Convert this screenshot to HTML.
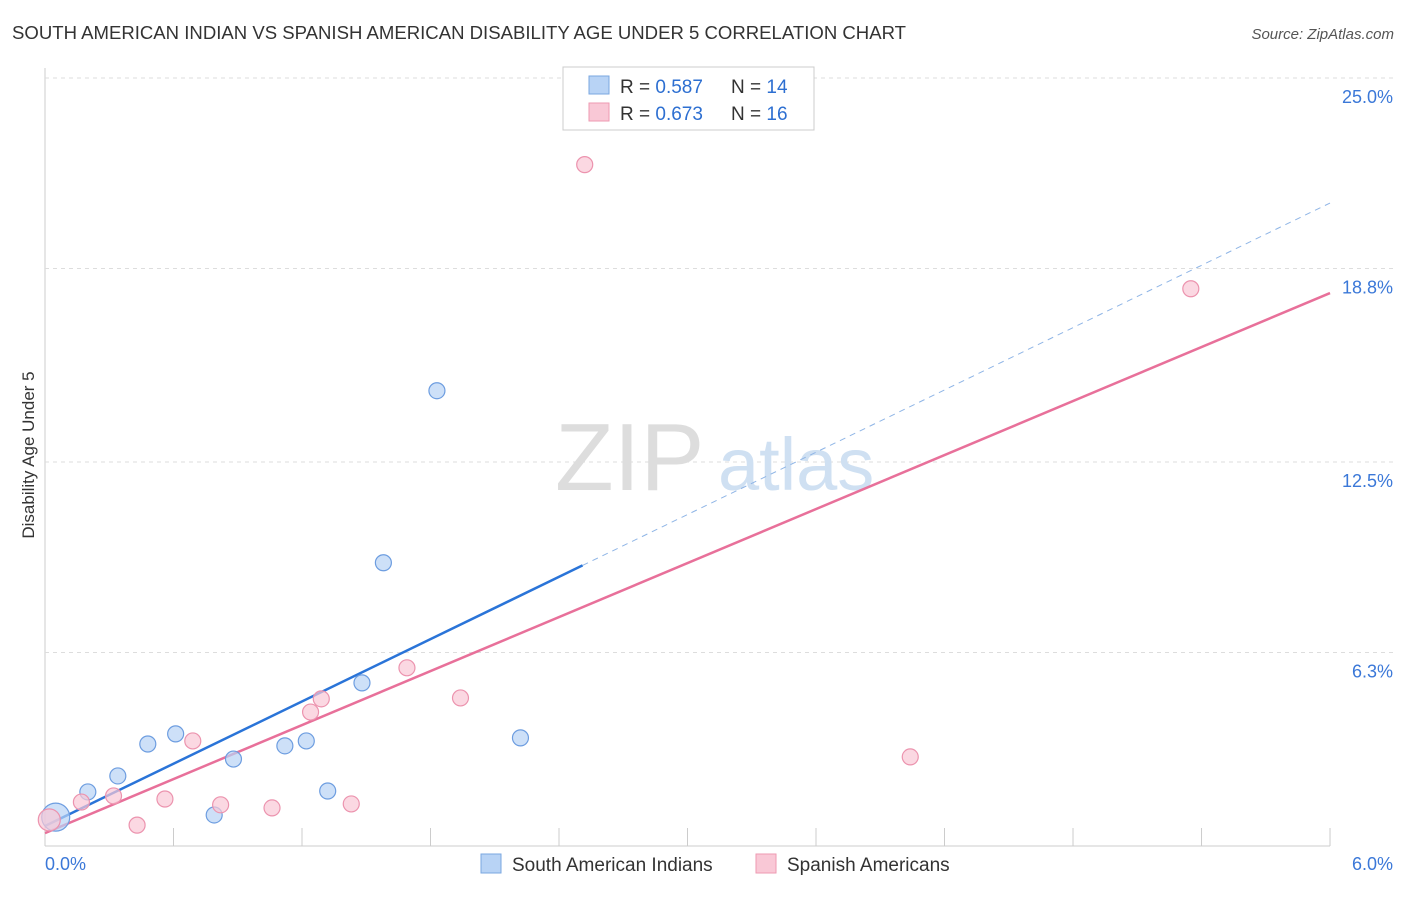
<!DOCTYPE html>
<html><head><meta charset="utf-8"><style>
body{margin:0;background:#fff;font-family:"Liberation Sans",sans-serif;}
svg text{font-family:"Liberation Sans",sans-serif;}
</style></head><body>
<svg width="1406" height="892" viewBox="0 0 1406 892">
<text x="12" y="39" font-size="18" fill="#333" textLength="894" lengthAdjust="spacingAndGlyphs">SOUTH AMERICAN INDIAN VS SPANISH AMERICAN DISABILITY AGE UNDER 5 CORRELATION CHART</text>
<text x="1394" y="39" font-size="15" fill="#555" font-style="italic" text-anchor="end">Source: ZipAtlas.com</text>
<text x="34" y="455" font-size="17" fill="#333" text-anchor="middle" transform="rotate(-90 34 455)">Disability Age Under 5</text>
<g id="grid"></g>
<g><text x="555" y="490" font-size="96" fill="#ddd" font-family="Liberation Serif">ZIP</text><text x="718" y="490" font-size="74" fill="#cfe0f2">atlas</text></g>
<g id="lines"></g>
<g id="pts"></g>
<g>
<rect x="563" y="67" width="251" height="63" fill="#fff" stroke="#ccc"/>
<rect x="589" y="76" width="20" height="18" fill="#b8d3f5" stroke="#7aa7e0"/>
<rect x="589" y="103" width="20" height="18" fill="#f9c8d6" stroke="#ee9ab2"/>
<text x="620" y="93" font-size="19" fill="#333">R = <tspan fill="#2d6fd1">0.587</tspan></text>
<text x="731" y="93" font-size="19" fill="#333">N = <tspan fill="#2d6fd1">14</tspan></text>
<text x="620" y="120" font-size="19" fill="#333">R = <tspan fill="#2d6fd1">0.673</tspan></text>
<text x="731" y="120" font-size="19" fill="#333">N = <tspan fill="#2d6fd1">16</tspan></text>
</g>
<g>
<rect x="481" y="854" width="20" height="19" fill="#b8d3f5" stroke="#7aa7e0"/>
<text x="512" y="871" font-size="19" fill="#333">South American Indians</text>
<rect x="756" y="854" width="20" height="19" fill="#f9c8d6" stroke="#ee9ab2"/>
<text x="787" y="871" font-size="19" fill="#333">Spanish Americans</text>
</g>
</svg>
<script>
const yTicks=[25.0,18.8,12.5,6.3];
const yTickLabels=["25.0%","18.8%","12.5%","6.3%"];
const xTickLabels=["0.0%","6.0%"];
const blueX=[0.05,0.20,0.34,0.48,0.61,0.79,0.88,1.12,1.22,1.32,1.48,1.58,1.83,2.22];
const blueY=[0.94,1.76,2.28,3.32,3.65,1.01,2.83,3.26,3.42,1.79,5.31,9.22,14.82,3.52];
const pinkX=[0.02,0.17,0.32,0.43,0.56,0.69,0.82,1.06,1.24,1.29,1.43,1.69,1.94,2.52,4.04,5.35];
const pinkY=[0.85,1.43,1.63,0.68,1.53,3.42,1.34,1.24,4.36,4.79,1.37,5.80,4.82,22.18,2.90,18.14];
const blueFit=[0.65,3.38]; // intercept, slope
const pinkFit=[0.42,2.93];
const X=v=>45+v*214.17, Y=v=>846-v*30.72;
const NS="http://www.w3.org/2000/svg";
function mk(t,a,p){const e=document.createElementNS(NS,t);for(const k in a)e.setAttribute(k,a[k]);p.appendChild(e);return e;}
const g=document.getElementById('grid');
mk('line',{x1:45,y1:68,x2:45,y2:846,stroke:'#ccc'},g);
mk('line',{x1:45,y1:846,x2:1330,y2:846,stroke:'#ccc'},g);
yTicks.forEach((t,i)=>{
 const l=mk('line',{x1:45,y1:Y(t),x2:1394,y2:Y(t),stroke:'#ddd','stroke-dasharray':'4,4'},g);
 
 
 const tx=mk('text',{x:1393,y:Y(t)+25,'font-size':18,fill:'#3b78d8','text-anchor':'end'},g);
 tx.textContent=yTickLabels[i];
 
 
});
for(let i=0;i<=10;i++){
 const l=mk('line',{x1:X(i*0.6),y1:828,x2:X(i*0.6),y2:846,stroke:'#ccc'},g);
 
 
}
[[0,45,'start'],[6,1393,'end']].forEach((d,i)=>{
 const tx=mk('text',{x:d[1],y:870,'font-size':18,fill:'#3b78d8','text-anchor':d[2]},g);
 tx.textContent=xTickLabels[i];
 
 
});
const L=document.getElementById('lines');
let e=mk('line',{x1:X(0),y1:Y(blueFit[0]),x2:X(2.51),y2:Y(blueFit[0]+blueFit[1]*2.51),stroke:'#2a74d8','stroke-width':2.5},L);


e=mk('line',{x1:X(2.51),y1:Y(blueFit[0]+blueFit[1]*2.51),x2:X(6),y2:Y(blueFit[0]+blueFit[1]*6),stroke:'#8fb5e6','stroke-width':1,'stroke-dasharray':'6,5'},L);


e=mk('line',{x1:X(0),y1:Y(pinkFit[0]),x2:X(6),y2:Y(pinkFit[0]+pinkFit[1]*6),stroke:'#e8709a','stroke-width':2.5},L);


const P=document.getElementById('pts');
blueX.forEach((x,i)=>{
 const c=mk('circle',{cx:X(x),cy:Y(blueY[i]),r:i==0?14:8,fill:'rgba(184,211,245,0.7)',stroke:'#6d9de0','stroke-width':1.2},P);
 
 
});
pinkX.forEach((x,i)=>{
 const c=mk('circle',{cx:X(x),cy:Y(pinkY[i]),r:i==0?11:8,fill:'rgba(249,200,214,0.7)',stroke:'#ec93ae','stroke-width':1.2},P);
 
 
});
</script>
</body></html>
